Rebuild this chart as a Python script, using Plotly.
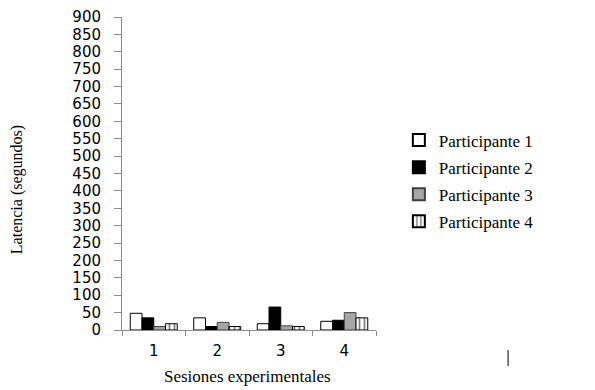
import plotly.graph_objects as go

sessions = ["1", "2", "3", "4"]
p1 = [48, 35, 18, 25]
p2 = [35, 10, 66, 28]
p3 = [10, 22, 12, 50]
p4 = [18, 10, 10, 35]
names = ["Participante 1", "Participante 2", "Participante 3", "Participante 4"]
y_ticks = list(range(0, 901, 50))

fig = go.Figure()
styles = [
    dict(color="white", line=dict(color="black", width=1)),
    dict(color="black", line=dict(color="black", width=1)),
    dict(color="#a6a6a6", line=dict(color="#404040", width=1)),
    dict(color="white", line=dict(color="black", width=1),
         pattern=dict(shape="|", fgcolor="black", bgcolor="white", size=5, solidity=0.35)),
]
for i, (name, vals, st) in enumerate(zip(names, [p1, p2, p3, p4], styles)):
    fig.add_trace(go.Bar(x=sessions, y=vals, name=name, marker=st, legendgroup=f"g{i}"))

fig.update_layout(
    width=587, height=382,
    margin=dict(l=114, r=219, t=9, b=60, autoexpand=False),
    paper_bgcolor="white", plot_bgcolor="white",
    barmode="group", bargap=0.26, bargroupgap=0,
    font=dict(family="Liberation Serif", color="black"),
    legend=dict(x=1.09, y=0.663, xanchor="left", yanchor="top",
                font=dict(family="Liberation Serif", size=17, color="black"),
                itemsizing="constant", tracegroupgap=2, bgcolor="rgba(0,0,0,0)"),
    xaxis=dict(
        showline=True, linecolor="#8c8c8c", linewidth=1,
        ticks="outside", tickson="boundaries", ticklen=5, tickcolor="#8c8c8c",
        tickfont=dict(family="DejaVu Sans", size=15, color="black"),
        ticklabelstandoff=7,
        showgrid=False, automargin=False,
    ),
    yaxis=dict(
        range=[0, 900], tickvals=y_ticks, ticktext=[str(v) for v in y_ticks],
        showline=True, linecolor="#8c8c8c", linewidth=1,
        ticks="outside", ticklen=7, tickcolor="#8c8c8c",
        tickfont=dict(family="DejaVu Sans", size=15, color="black"),
        ticklabelstandoff=10, ticklabeloverflow="allow",
        showgrid=False, zeroline=False, automargin=False,
    ),
    annotations=[
        dict(text="Sesiones experimentales", xref="paper", yref="paper",
             x=0.496, y=-0.147, showarrow=False, xanchor="center", yanchor="middle",
             font=dict(family="Liberation Serif", size=17, color="black")),
        dict(text="Latencia (segundos)", xref="paper", yref="paper",
             x=-0.413, y=0.447, showarrow=False, xanchor="center", yanchor="middle",
             textangle=-90,
             font=dict(family="Liberation Serif", size=16, color="black")),
    ],
)
fig.add_shape(type="line", xref="paper", yref="paper",
              x0=1.52, x1=1.52, y0=-0.064, y1=-0.115,
              line=dict(color="black", width=1))

fig.write_html("out.html")
